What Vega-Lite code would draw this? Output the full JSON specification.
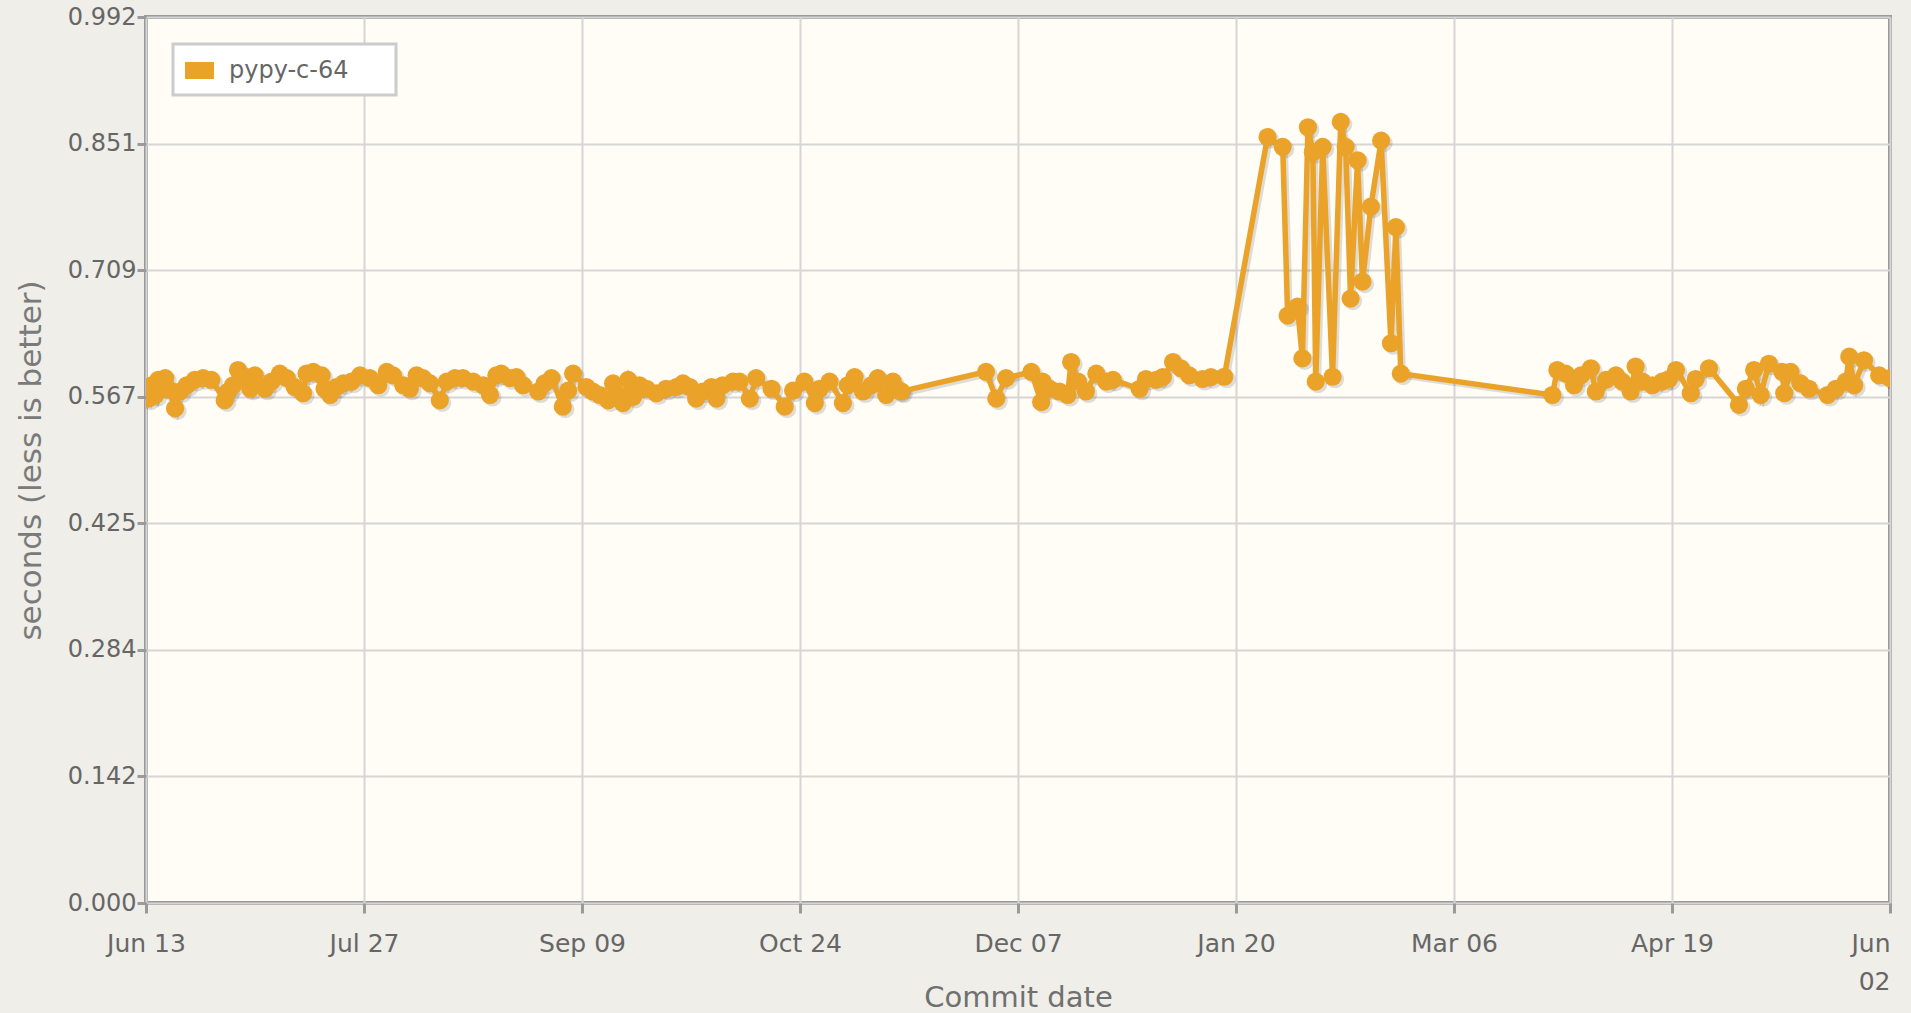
{
  "$schema": "https://vega.github.io/schema/vega-lite/v6.json",
  "width": 1744,
  "height": 886,
  "autosize": {"type": "none"},
  "padding": {"left": 146, "top": 17, "right": 21, "bottom": 110},
  "background": "#efeee9",
  "config": {
    "font": "DejaVu Sans",
    "view": {"fill": "#fffdf6", "stroke": "#9a9a9a", "strokeWidth": 4},
    "legend": {"strokeWidth": 3}
  },
  "data": {
    "values": [
      {"date": "2010-06-13T07:12", "seconds": 0.571},
      {"date": "2010-06-13T19:00", "seconds": 0.565},
      {"date": "2010-06-14T12:00", "seconds": 0.580},
      {"date": "2010-06-15T05:00", "seconds": 0.569},
      {"date": "2010-06-15T19:00", "seconds": 0.586},
      {"date": "2010-06-17T05:00", "seconds": 0.588},
      {"date": "2010-06-18T00:00", "seconds": 0.575},
      {"date": "2010-06-19T05:00", "seconds": 0.554},
      {"date": "2010-06-20T05:00", "seconds": 0.573},
      {"date": "2010-06-21T14:00", "seconds": 0.580},
      {"date": "2010-06-23T05:00", "seconds": 0.586},
      {"date": "2010-06-24T22:00", "seconds": 0.588},
      {"date": "2010-06-26T14:00", "seconds": 0.586},
      {"date": "2010-06-29T07:00", "seconds": 0.563},
      {"date": "2010-06-30T00:00", "seconds": 0.573},
      {"date": "2010-07-01T00:00", "seconds": 0.580},
      {"date": "2010-07-02T00:00", "seconds": 0.597},
      {"date": "2010-07-03T17:00", "seconds": 0.589},
      {"date": "2010-07-04T12:00", "seconds": 0.576},
      {"date": "2010-07-05T10:00", "seconds": 0.591},
      {"date": "2010-07-07T12:00", "seconds": 0.576},
      {"date": "2010-07-08T19:00", "seconds": 0.584},
      {"date": "2010-07-10T12:00", "seconds": 0.593},
      {"date": "2010-07-11T22:00", "seconds": 0.588},
      {"date": "2010-07-13T12:00", "seconds": 0.578},
      {"date": "2010-07-15T05:00", "seconds": 0.571},
      {"date": "2010-07-15T22:00", "seconds": 0.593},
      {"date": "2010-07-17T07:00", "seconds": 0.595},
      {"date": "2010-07-19T00:00", "seconds": 0.591},
      {"date": "2010-07-19T14:00", "seconds": 0.576},
      {"date": "2010-07-20T17:00", "seconds": 0.569},
      {"date": "2010-07-22T00:00", "seconds": 0.578},
      {"date": "2010-07-23T10:00", "seconds": 0.582},
      {"date": "2010-07-25T02:00", "seconds": 0.584},
      {"date": "2010-07-26T19:00", "seconds": 0.591},
      {"date": "2010-07-28T19:00", "seconds": 0.588},
      {"date": "2010-07-30T12:00", "seconds": 0.580},
      {"date": "2010-08-01T05:00", "seconds": 0.595},
      {"date": "2010-08-02T12:00", "seconds": 0.591},
      {"date": "2010-08-04T14:00", "seconds": 0.580},
      {"date": "2010-08-05T22:00", "seconds": 0.576},
      {"date": "2010-08-07T07:00", "seconds": 0.591},
      {"date": "2010-08-08T14:00", "seconds": 0.588},
      {"date": "2010-08-10T00:00", "seconds": 0.582},
      {"date": "2010-08-12T00:00", "seconds": 0.563},
      {"date": "2010-08-13T10:00", "seconds": 0.584},
      {"date": "2010-08-15T02:00", "seconds": 0.588},
      {"date": "2010-08-16T17:00", "seconds": 0.588},
      {"date": "2010-08-18T19:00", "seconds": 0.584},
      {"date": "2010-08-20T19:00", "seconds": 0.580},
      {"date": "2010-08-22T05:00", "seconds": 0.569},
      {"date": "2010-08-23T12:00", "seconds": 0.591},
      {"date": "2010-08-24T12:00", "seconds": 0.593},
      {"date": "2010-08-26T05:00", "seconds": 0.588},
      {"date": "2010-08-27T14:00", "seconds": 0.589},
      {"date": "2010-08-28T22:00", "seconds": 0.580},
      {"date": "2010-09-01T00:00", "seconds": 0.573},
      {"date": "2010-09-02T07:00", "seconds": 0.582},
      {"date": "2010-09-03T17:00", "seconds": 0.588},
      {"date": "2010-09-06T00:00", "seconds": 0.556},
      {"date": "2010-09-07T02:00", "seconds": 0.574},
      {"date": "2010-09-08T02:00", "seconds": 0.593},
      {"date": "2010-09-10T19:00", "seconds": 0.578},
      {"date": "2010-09-12T02:00", "seconds": 0.573},
      {"date": "2010-09-13T12:00", "seconds": 0.569},
      {"date": "2010-09-15T05:00", "seconds": 0.563},
      {"date": "2010-09-16T05:00", "seconds": 0.582},
      {"date": "2010-09-17T05:00", "seconds": 0.569},
      {"date": "2010-09-18T05:00", "seconds": 0.560},
      {"date": "2010-09-19T07:00", "seconds": 0.586},
      {"date": "2010-09-20T07:00", "seconds": 0.567},
      {"date": "2010-09-21T14:00", "seconds": 0.580},
      {"date": "2010-09-23T00:00", "seconds": 0.576},
      {"date": "2010-09-25T00:00", "seconds": 0.571},
      {"date": "2010-09-27T00:00", "seconds": 0.576},
      {"date": "2010-09-29T02:00", "seconds": 0.578},
      {"date": "2010-09-30T10:00", "seconds": 0.582},
      {"date": "2010-10-01T19:00", "seconds": 0.578},
      {"date": "2010-10-03T02:00", "seconds": 0.565},
      {"date": "2010-10-04T12:00", "seconds": 0.573},
      {"date": "2010-10-06T05:00", "seconds": 0.578},
      {"date": "2010-10-07T05:00", "seconds": 0.565},
      {"date": "2010-10-08T12:00", "seconds": 0.580},
      {"date": "2010-10-10T14:00", "seconds": 0.584},
      {"date": "2010-10-11T22:00", "seconds": 0.584},
      {"date": "2010-10-14T00:00", "seconds": 0.565},
      {"date": "2010-10-15T07:00", "seconds": 0.588},
      {"date": "2010-10-18T10:00", "seconds": 0.576},
      {"date": "2010-10-21T02:00", "seconds": 0.556},
      {"date": "2010-10-22T19:00", "seconds": 0.574},
      {"date": "2010-10-25T02:00", "seconds": 0.584},
      {"date": "2010-10-27T05:00", "seconds": 0.560},
      {"date": "2010-10-28T05:00", "seconds": 0.576},
      {"date": "2010-10-30T05:00", "seconds": 0.584},
      {"date": "2010-11-01T22:00", "seconds": 0.560},
      {"date": "2010-11-02T22:00", "seconds": 0.580},
      {"date": "2010-11-04T07:00", "seconds": 0.589},
      {"date": "2010-11-06T00:00", "seconds": 0.573},
      {"date": "2010-11-07T17:00", "seconds": 0.580},
      {"date": "2010-11-09T00:00", "seconds": 0.588},
      {"date": "2010-11-10T17:00", "seconds": 0.569},
      {"date": "2010-11-12T02:00", "seconds": 0.584},
      {"date": "2010-11-13T10:00", "seconds": 0.574},
      {"date": "2010-11-13T19:00", "seconds": 0.573},
      {"date": "2010-12-01T00:00", "seconds": 0.595},
      {"date": "2010-12-03T02:00", "seconds": 0.565},
      {"date": "2010-12-05T02:00", "seconds": 0.588},
      {"date": "2010-12-10T05:00", "seconds": 0.595},
      {"date": "2010-12-12T05:00", "seconds": 0.561},
      {"date": "2010-12-12T12:00", "seconds": 0.584},
      {"date": "2010-12-13T22:00", "seconds": 0.576},
      {"date": "2010-12-15T22:00", "seconds": 0.573},
      {"date": "2010-12-17T14:00", "seconds": 0.569},
      {"date": "2010-12-18T07:00", "seconds": 0.606},
      {"date": "2010-12-19T17:00", "seconds": 0.584},
      {"date": "2010-12-21T07:00", "seconds": 0.573},
      {"date": "2010-12-23T10:00", "seconds": 0.593},
      {"date": "2010-12-25T10:00", "seconds": 0.584},
      {"date": "2010-12-26T19:00", "seconds": 0.586},
      {"date": "2011-01-01T05:00", "seconds": 0.576},
      {"date": "2011-01-02T12:00", "seconds": 0.587},
      {"date": "2011-01-04T14:00", "seconds": 0.586},
      {"date": "2011-01-05T22:00", "seconds": 0.589},
      {"date": "2011-01-08T00:00", "seconds": 0.606},
      {"date": "2011-01-09T14:00", "seconds": 0.599},
      {"date": "2011-01-11T07:00", "seconds": 0.591},
      {"date": "2011-01-14T00:00", "seconds": 0.587},
      {"date": "2011-01-15T17:00", "seconds": 0.589},
      {"date": "2011-01-18T10:00", "seconds": 0.5895},
      {"date": "2011-01-27T05:00", "seconds": 0.858},
      {"date": "2011-01-30T07:00", "seconds": 0.847},
      {"date": "2011-01-31T07:00", "seconds": 0.658},
      {"date": "2011-02-02T07:00", "seconds": 0.668},
      {"date": "2011-02-03T07:00", "seconds": 0.610},
      {"date": "2011-02-04T10:00", "seconds": 0.869},
      {"date": "2011-02-05T10:00", "seconds": 0.841},
      {"date": "2011-02-06T00:00", "seconds": 0.584},
      {"date": "2011-02-07T10:00", "seconds": 0.847},
      {"date": "2011-02-09T10:00", "seconds": 0.5895},
      {"date": "2011-02-11T02:00", "seconds": 0.875},
      {"date": "2011-02-12T02:00", "seconds": 0.847},
      {"date": "2011-02-13T02:00", "seconds": 0.677},
      {"date": "2011-02-14T12:00", "seconds": 0.832},
      {"date": "2011-02-15T12:00", "seconds": 0.696},
      {"date": "2011-02-17T05:00", "seconds": 0.780},
      {"date": "2011-02-19T07:00", "seconds": 0.854},
      {"date": "2011-02-21T07:00", "seconds": 0.627},
      {"date": "2011-02-22T07:00", "seconds": 0.757},
      {"date": "2011-02-23T07:00", "seconds": 0.593},
      {"date": "2011-03-26T02:00", "seconds": 0.569},
      {"date": "2011-03-27T02:00", "seconds": 0.597},
      {"date": "2011-03-28T19:00", "seconds": 0.593},
      {"date": "2011-03-30T12:00", "seconds": 0.580},
      {"date": "2011-03-31T22:00", "seconds": 0.591},
      {"date": "2011-04-02T22:00", "seconds": 0.599},
      {"date": "2011-04-03T22:00", "seconds": 0.573},
      {"date": "2011-04-06T00:00", "seconds": 0.586},
      {"date": "2011-04-08T00:00", "seconds": 0.591},
      {"date": "2011-04-09T07:00", "seconds": 0.584},
      {"date": "2011-04-11T00:00", "seconds": 0.573},
      {"date": "2011-04-12T00:00", "seconds": 0.601},
      {"date": "2011-04-13T10:00", "seconds": 0.584},
      {"date": "2011-04-15T10:00", "seconds": 0.580},
      {"date": "2011-04-17T10:00", "seconds": 0.584},
      {"date": "2011-04-18T19:00", "seconds": 0.587},
      {"date": "2011-04-20T05:00", "seconds": 0.597},
      {"date": "2011-04-23T05:00", "seconds": 0.571},
      {"date": "2011-04-24T05:00", "seconds": 0.587},
      {"date": "2011-04-26T22:00", "seconds": 0.599},
      {"date": "2011-05-03T00:00", "seconds": 0.558},
      {"date": "2011-05-04T10:00", "seconds": 0.576},
      {"date": "2011-05-06T02:00", "seconds": 0.597},
      {"date": "2011-05-07T10:00", "seconds": 0.569},
      {"date": "2011-05-09T02:00", "seconds": 0.604},
      {"date": "2011-05-11T19:00", "seconds": 0.595},
      {"date": "2011-05-12T05:00", "seconds": 0.571},
      {"date": "2011-05-13T12:00", "seconds": 0.595},
      {"date": "2011-05-15T12:00", "seconds": 0.582},
      {"date": "2011-05-17T05:00", "seconds": 0.576},
      {"date": "2011-05-21T00:00", "seconds": 0.569},
      {"date": "2011-05-22T17:00", "seconds": 0.576},
      {"date": "2011-05-24T17:00", "seconds": 0.584},
      {"date": "2011-05-25T10:00", "seconds": 0.612},
      {"date": "2011-05-26T10:00", "seconds": 0.580},
      {"date": "2011-05-28T10:00", "seconds": 0.608},
      {"date": "2011-05-31T12:00", "seconds": 0.591},
      {"date": "2011-06-02T16:48", "seconds": 0.588}
    ]
  },
  "encoding": {
    "x": {
      "field": "date",
      "type": "temporal",
      "scale": {
        "domain": [
          {"year": 2010, "month": 6, "date": 13, "hours": 7, "minutes": 12},
          {"year": 2011, "month": 6, "date": 2, "hours": 16, "minutes": 48}
        ]
      },
      "axis": {
        "values": [
          {"year": 2010, "month": 6, "date": 13, "hours": 7, "minutes": 12},
          {"year": 2010, "month": 7, "date": 27, "hours": 14, "minutes": 24},
          {"year": 2010, "month": 9, "date": 9, "hours": 21, "minutes": 36},
          {"year": 2010, "month": 10, "date": 24, "hours": 4, "minutes": 48},
          {"year": 2010, "month": 12, "date": 7, "hours": 12, "minutes": 0},
          {"year": 2011, "month": 1, "date": 20, "hours": 19, "minutes": 12},
          {"year": 2011, "month": 3, "date": 6, "hours": 2, "minutes": 24},
          {"year": 2011, "month": 4, "date": 19, "hours": 9, "minutes": 36},
          {"year": 2011, "month": 6, "date": 2, "hours": 16, "minutes": 48}
        ],
        "format": "%b %d",
        "labelExpr": "datum.index == 1 ? split(datum.label, ' ') : datum.label",
        "labelAlign": {"condition": {"test": "datum.index == 1", "value": "right"}, "value": "center"},
        "labelFont": "DejaVu Sans",
        "labelFontSize": 25,
        "labelColor": "#666666",
        "labelPadding": 18,
        "labelLineHeight": 38,
        "labelOverlap": false,
        "domain": false,
        "grid": true,
        "gridColor": "#d6d6d6",
        "gridWidth": 2,
        "tickColor": "#9a9a9a",
        "tickSize": 10,
        "tickWidth": 3,
        "title": "Commit date",
        "titleFont": "DejaVu Sans",
        "titleFontSize": 29,
        "titleFontWeight": "normal",
        "titleColor": "#707070",
        "titleY": 103,
        "titleBaseline": "alphabetic"
      }
    },
    "y": {
      "field": "seconds",
      "type": "quantitative",
      "scale": {"domain": [0, 0.99245], "nice": false, "zero": true},
      "axis": {
        "values": [0, 0.14178, 0.28356, 0.42534, 0.56711, 0.70889, 0.85067, 0.99245],
        "format": ".3f",
        "labelFont": "DejaVu Sans",
        "labelFontSize": 24,
        "labelColor": "#666666",
        "labelPadding": 1,
        "labelOverlap": false,
        "domain": false,
        "grid": true,
        "gridColor": "#d6d6d6",
        "gridWidth": 2,
        "tickColor": "#9a9a9a",
        "tickSize": 9,
        "tickWidth": 3,
        "title": "seconds (less is better)",
        "titleFont": "DejaVu Sans",
        "titleFontSize": 31,
        "titleFontWeight": "normal",
        "titleColor": "#7a7a7a",
        "titlePadding": 20
      }
    },
    "color": {
      "datum": "pypy-c-64",
      "type": "nominal",
      "scale": {"range": ["#eaa228"]},
      "legend": {
        "title": null,
        "orient": "none",
        "legendX": 27,
        "legendY": 27,
        "padding": 12,
        "strokeColor": "#cccccc",
        "fillColor": "#ffffff",
        "symbolType": "M-1,-0.586H1V0.586H-1Z",
        "symbolSize": 841,
        "symbolStrokeWidth": 0,
        "symbolFillColor": "#eaa228",
        "symbolOpacity": 1,
        "labelFont": "DejaVu Sans",
        "labelFontSize": 24,
        "labelColor": "#666666",
        "labelOffset": 15,
        "labelLimit": 400,
        "labelExpr": "datum.label + '\u2800\u2800'"
      }
    }
  },
  "layer": [
    {
      "mark": {"type": "line", "strokeWidth": 5.5, "xOffset": 2.5, "yOffset": 2.5, "clip": true},
      "encoding": {"color": {"value": "#000000"}, "opacity": {"value": 0.13}}
    },
    {
      "mark": {"type": "point", "filled": true, "size": 330, "xOffset": 2.5, "yOffset": 2.5, "clip": true},
      "encoding": {"color": {"value": "#000000"}, "opacity": {"value": 0.13}}
    },
    {
      "mark": {"type": "line", "strokeWidth": 5.5, "clip": true}
    },
    {
      "mark": {"type": "point", "filled": true, "size": 330, "opacity": 1, "clip": true}
    }
  ]
}
